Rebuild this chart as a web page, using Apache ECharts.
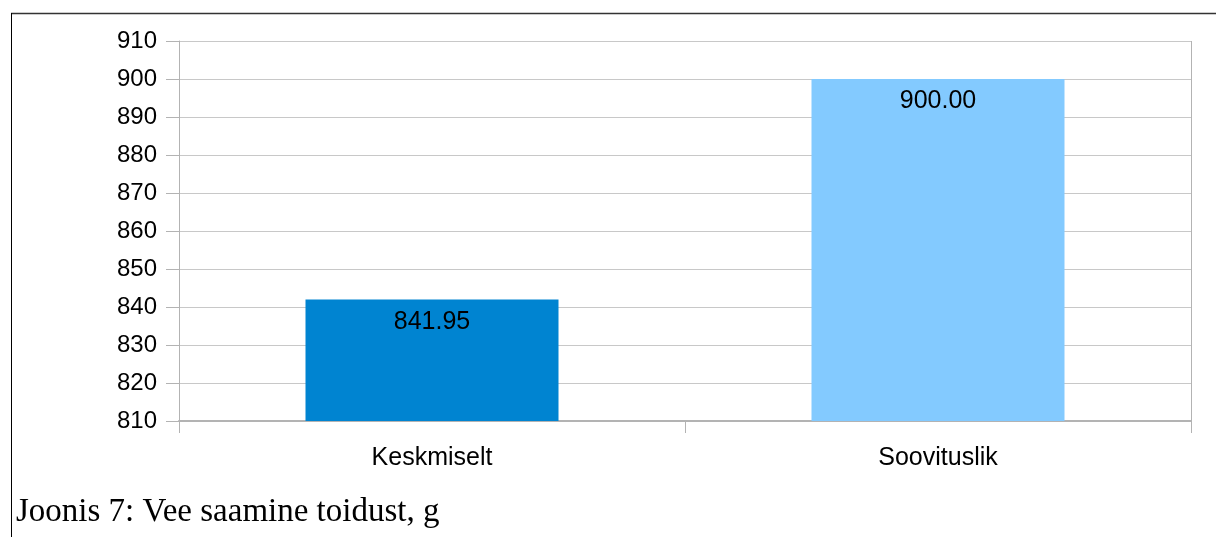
<!DOCTYPE html>
<html><head><meta charset="utf-8">
<script src="https://cdn.jsdelivr.net/npm/echarts@6/dist/echarts.min.js"></script>
<style>html,body{margin:0;padding:0;background:#fff}#c{width:1216px;height:537px}</style>
</head><body><div id="c"></div>
<script>
const categories = ['Keskmiselt', 'Soovituslik'];
const values = [841.95, 900.00];
const barColors = ['#0084d1', '#83caff'];
const caption = 'Joonis 7: Vee saamine toidust, g';

const chart = echarts.init(document.getElementById('c'));
chart.setOption({
  backgroundColor: '#ffffff',
  animation: false,
  title: {
    text: caption, left: 11, top: 491,
    textStyle: { fontFamily: 'Liberation Serif', fontSize: 33, fontWeight: 'normal', color: '#000' }
  },
  grid: { left: 179, right: 25, top: 41, bottom: 116 },
  xAxis: {
    type: 'category', data: categories,
    axisLine: { lineStyle: { color: '#b3b3b3', width: 2 } },
    axisTick: { show: true, length: 12, lineStyle: { color: '#b3b3b3' } },
    axisLabel: { fontFamily: 'Liberation Sans', fontSize: 25, color: '#000', margin: 25 },
    splitLine: { show: false }
  },
  yAxis: {
    type: 'value', min: 810, max: 910, interval: 10,
    axisLine: { show: true, lineStyle: { color: '#b3b3b3' } },
    axisTick: { show: true, length: 13, lineStyle: { color: '#b3b3b3' } },
    axisLabel: { fontFamily: 'Liberation Sans', fontSize: 24, color: '#000', margin: 22 },
    splitLine: { show: true, lineStyle: { color: '#c8c8c8', width: 1 } }
  },
  series: [{
    type: 'bar',
    barWidth: '50%',
    data: values.map((v, i) => ({ value: v, itemStyle: { color: barColors[i] } })),
    label: {
      show: true, position: 'insideTop', distance: 10,
      formatter: p => p.value.toFixed(2),
      fontFamily: 'Liberation Sans', fontSize: 25, color: '#000'
    }
  }],
  graphic: [
    { type: 'line', shape: { x1: 11, y1: 13.5, x2: 1216, y2: 13.5 }, style: { stroke: '#333', lineWidth: 1.5 } },
    { type: 'line', shape: { x1: 11.5, y1: 13, x2: 11.5, y2: 537 }, style: { stroke: '#000', lineWidth: 1 } },
    { type: 'line', shape: { x1: 1191.5, y1: 41, x2: 1191.5, y2: 433 }, style: { stroke: '#b3b3b3', lineWidth: 1 } }
  ]
});
</script></body></html>
